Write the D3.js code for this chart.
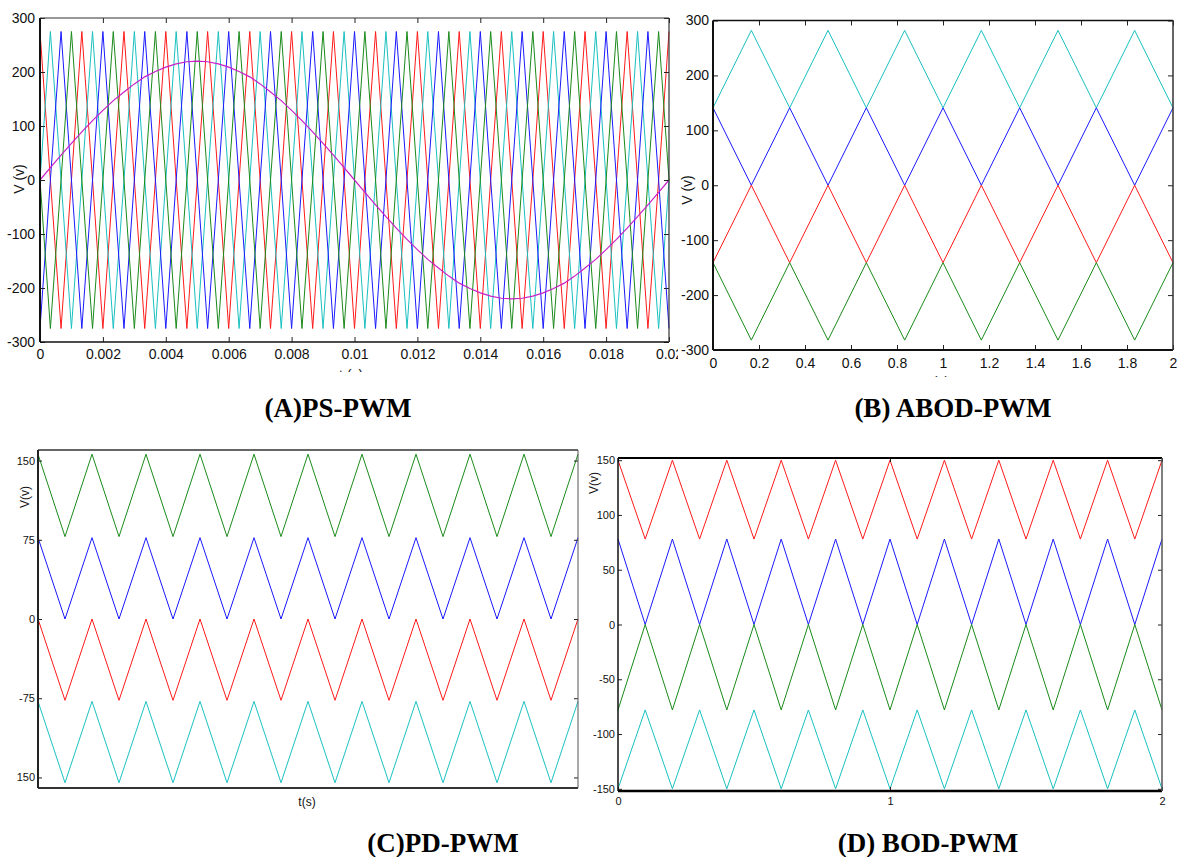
<!DOCTYPE html>
<html>
  <head>
    <title>PWM carriers</title>
    <script src="https://cdn.jsdelivr.net/npm/d3@7"></script>
    <style>
      body { margin: 0; background: #fff; }
    </style>
  </head>
  <body>
    <svg width="1178" height="857" id="mainsvg"></svg>
    <script>
      // ---------- (A) PS-PWM : one time grid (s) for the four carriers + reference ----------
      const tA = [0, 0.00033, 0.00067, 0.001, 0.00133, 0.00167, 0.002, 0.00233, 0.00267, 0.003,
        0.00333, 0.00367, 0.004, 0.00433, 0.00467, 0.005, 0.00533, 0.00567, 0.006, 0.00633,
        0.00667, 0.007, 0.00733, 0.00767, 0.008, 0.00833, 0.00867, 0.009, 0.00933, 0.00967,
        0.01, 0.01033, 0.01067, 0.011, 0.01133, 0.01167, 0.012, 0.01233, 0.01267, 0.013,
        0.01333, 0.01367, 0.014, 0.01433, 0.01467, 0.015, 0.01533, 0.01567, 0.016, 0.01633,
        0.01667, 0.017, 0.01733, 0.01767, 0.018, 0.01833, 0.01867, 0.019, 0.01933, 0.01967, 0.02];
      const sineA = [0, 23, 46, 68, 89, 110, 129, 147, 163, 178, 191, 201, 209, 215, 219, 220,
        219, 215, 209, 201, 191, 178, 163, 147, 129, 110, 89, 68, 46, 23, 0,
        -23, -46, -68, -89, -110, -129, -147, -163, -178, -191, -201, -209, -215, -219, -220,
        -219, -215, -209, -201, -191, -178, -163, -147, -129, -110, -89, -68, -46, -23, 0];
      const redA = [275, 0, -275, 0, 275, 0, -275, 0, 275, 0, -275, 0, 275, 0, -275, 0,
        275, 0, -275, 0, 275, 0, -275, 0, 275, 0, -275, 0, 275, 0, -275, 0,
        275, 0, -275, 0, 275, 0, -275, 0, 275, 0, -275, 0, 275, 0, -275, 0,
        275, 0, -275, 0, 275, 0, -275, 0, 275, 0, -275, 0, 275];
      const cyanA = [0, 275, 0, -275, 0, 275, 0, -275, 0, 275, 0, -275, 0, 275, 0, -275,
        0, 275, 0, -275, 0, 275, 0, -275, 0, 275, 0, -275, 0, 275, 0, -275,
        0, 275, 0, -275, 0, 275, 0, -275, 0, 275, 0, -275, 0, 275, 0, -275,
        0, 275, 0, -275, 0, 275, 0, -275, 0, 275, 0, -275, 0];
      const blueA = [-275, 0, 275, 0, -275, 0, 275, 0, -275, 0, 275, 0, -275, 0, 275, 0,
        -275, 0, 275, 0, -275, 0, 275, 0, -275, 0, 275, 0, -275, 0, 275, 0,
        -275, 0, 275, 0, -275, 0, 275, 0, -275, 0, 275, 0, -275, 0, 275, 0,
        -275, 0, 275, 0, -275, 0, 275, 0, -275, 0, 275, 0, -275];
      const greenA = [0, -275, 0, 275, 0, -275, 0, 275, 0, -275, 0, 275, 0, -275, 0, 275,
        0, -275, 0, 275, 0, -275, 0, 275, 0, -275, 0, 275, 0, -275, 0, 275,
        0, -275, 0, 275, 0, -275, 0, 275, 0, -275, 0, 275, 0, -275, 0, 275,
        0, -275, 0, 275, 0, -275, 0, 275, 0, -275, 0, 275, 0];
      const yTicksA = [-300, -200, -100, 0, 100, 200, 300];
      const yLabelsA = ['-300', '-200', '-100', '0', '100', '200', '300'];
      const xTicksA = [0, 0.002, 0.004, 0.006, 0.008, 0.01, 0.012, 0.014, 0.016, 0.018, 0.02];
      const xLabelsA = ['0', '0.002', '0.004', '0.006', '0.008', '0.01', '0.012', '0.014', '0.016', '0.018', '0.02'];

      // ---------- (B) ABOD-PWM ----------
      const tB = [0, 0.1667, 0.3333, 0.5, 0.6667, 0.8333, 1, 1.1667, 1.3333, 1.5, 1.6667, 1.8333, 2];
      const cyanB = [141, 282, 141, 282, 141, 282, 141, 282, 141, 282, 141, 282, 141];
      const blueB = [141, 0, 141, 0, 141, 0, 141, 0, 141, 0, 141, 0, 141];
      const redB = [-141, 0, -141, 0, -141, 0, -141, 0, -141, 0, -141, 0, -141];
      const greenB = [-141, -282, -141, -282, -141, -282, -141, -282, -141, -282, -141, -282, -141];
      const yTicksB = [-300, -200, -100, 0, 100, 200, 300];
      const yLabelsB = ['-300', '-200', '-100', '0', '100', '200', '300'];
      const xTicksB = [0, 0.2, 0.4, 0.6, 0.8, 1, 1.2, 1.4, 1.6, 1.8, 2];
      const xLabelsB = ['0', '0.2', '0.4', '0.6', '0.8', '1', '1.2', '1.4', '1.6', '1.8', '2'];

      // ---------- (C) PD-PWM ----------
      const tC = [0, 0.1, 0.2, 0.3, 0.4, 0.5, 0.6, 0.7, 0.8, 0.9, 1, 1.1, 1.2, 1.3, 1.4, 1.5, 1.6, 1.7, 1.8, 1.9, 2];
      const greenC = [156, 78, 156, 78, 156, 78, 156, 78, 156, 78, 156, 78, 156, 78, 156, 78, 156, 78, 156, 78, 156];
      const blueC = [77, 0, 77, 0, 77, 0, 77, 0, 77, 0, 77, 0, 77, 0, 77, 0, 77, 0, 77, 0, 77];
      const redC = [0, -77, 0, -77, 0, -77, 0, -77, 0, -77, 0, -77, 0, -77, 0, -77, 0, -77, 0, -77, 0];
      const cyanC = [-78, -155, -78, -155, -78, -155, -78, -155, -78, -155, -78, -155, -78, -155, -78, -155, -78, -155, -78, -155, -78];
      const yTicksC = [-150, -75, 0, 75, 150];
      const yLabelsC = ['150', '-75', '0', '75', '150'];

      // ---------- (D) BOD-PWM ----------
      const tD = [0, 0.1, 0.2, 0.3, 0.4, 0.5, 0.6, 0.7, 0.8, 0.9, 1, 1.1, 1.2, 1.3, 1.4, 1.5, 1.6, 1.7, 1.8, 1.9, 2];
      const redD = [150, 78, 150, 78, 150, 78, 150, 78, 150, 78, 150, 78, 150, 78, 150, 78, 150, 78, 150, 78, 150];
      const blueD = [78, 0, 78, 0, 78, 0, 78, 0, 78, 0, 78, 0, 78, 0, 78, 0, 78, 0, 78, 0, 78];
      const greenD = [-78, 0, -78, 0, -78, 0, -78, 0, -78, 0, -78, 0, -78, 0, -78, 0, -78, 0, -78, 0, -78];
      const cyanD = [-150, -78, -150, -78, -150, -78, -150, -78, -150, -78, -150, -78, -150, -78, -150, -78, -150, -78, -150, -78, -150];
      const yTicksD = [-150, -100, -50, 0, 50, 100, 150];
      const yLabelsD = ['-150', '-100', '-50', '0', '50', '100', '150'];
      const xTicksD = [0, 1, 2];
      const xLabelsD = ['0', '1', '2'];

      // matlab-ish colours
      const RED = '#ff1a1a', BLUE = '#1a1aff', GREEN = '#1a8a1a', CYAN = '#1ac0c0', MAGENTA = '#c81fc8';

      const svg = d3.select('#mainsvg');
      const sans = "'Liberation Sans', Arial, sans-serif";
      const narrow = "'Liberation Sans Narrow', 'Liberation Sans', Arial, sans-serif";
      const serif = "'Liberation Serif', 'Times New Roman', serif";

      const render = function(cfg) {
        const g = svg.append('g');
        if (cfg.clip) {
          svg.append('clipPath').attr('id', cfg.id + '-clip')
            .append('rect')
            .attr('x', cfg.clip[0]).attr('y', cfg.clip[1])
            .attr('width', cfg.clip[2]).attr('height', cfg.clip[3]);
          g.attr('clip-path', `url(#${cfg.id}-clip)`);
        }

        const xScale = d3.scaleLinear().domain(cfg.xDomain).range([cfg.left, cfg.right]);
        const yScale = d3.scaleLinear().domain(cfg.yDomain).range([cfg.bottom, cfg.top]);

        // carriers / reference
        const line = d3.line()
          .x((d, i) => xScale(cfg.t[i]))
          .y(d => yScale(d));
        cfg.series.forEach(s => {
          g.append('path')
            .attr('d', line(s.values))
            .attr('fill', 'none')
            .attr('stroke', s.color)
            .attr('stroke-width', s.width || 1);
        });

        // inward ticks on all sides, labels left / bottom
        const yLeft = d3.axisLeft(yScale)
          .tickValues(cfg.yTicks)
          .tickFormat((d, i) => cfg.yLabels[i])
          .tickSize(-cfg.tick).tickSizeOuter(0)
          .tickPadding(cfg.yPad);
        const yl = g.append('g').attr('transform', `translate(${cfg.left}, 0)`).call(yLeft);

        const yRight = d3.axisRight(yScale)
          .tickValues(cfg.yTicks).tickFormat('')
          .tickSize(-cfg.tick).tickSizeOuter(0);
        const yr = g.append('g').attr('transform', `translate(${cfg.right}, 0)`).call(yRight);

        const axisGroups = [yl, yr];
        if (cfg.xTicks) {
          const xBottom = d3.axisBottom(xScale)
            .tickValues(cfg.xTicks)
            .tickFormat((d, i) => cfg.xLabels ? cfg.xLabels[i] : '')
            .tickSize(-cfg.tick).tickSizeOuter(0)
            .tickPadding(cfg.xPad);
          const xb = g.append('g').attr('transform', `translate(0, ${cfg.bottom})`).call(xBottom);
          const xTop = d3.axisTop(xScale)
            .tickValues(cfg.xTicks).tickFormat('')
            .tickSize(-cfg.tick).tickSizeOuter(0);
          const xt = g.append('g').attr('transform', `translate(0, ${cfg.top})`).call(xTop);
          axisGroups.push(xb, xt);
        }
        axisGroups.forEach(a => {
          a.selectAll('.domain').remove();
          a.selectAll('line').attr('stroke', '#222');
          a.selectAll('text')
            .attr('fill', '#111')
            .style('font-family', cfg.font)
            .style('font-size', cfg.fontSize + 'px');
        });

        // frame
        const fr = cfg.frame;
        g.append('line').attr('x1', cfg.left).attr('x2', cfg.right).attr('y1', cfg.top).attr('y2', cfg.top)
          .attr('stroke', fr.top[0]).attr('stroke-width', fr.top[1]);
        g.append('line').attr('x1', cfg.left).attr('x2', cfg.right).attr('y1', cfg.bottom).attr('y2', cfg.bottom)
          .attr('stroke', fr.bottom[0]).attr('stroke-width', fr.bottom[1]);
        g.append('line').attr('x1', cfg.left).attr('x2', cfg.left).attr('y1', cfg.top).attr('y2', cfg.bottom)
          .attr('stroke', fr.left[0]).attr('stroke-width', fr.left[1]);
        g.append('line').attr('x1', cfg.right).attr('x2', cfg.right).attr('y1', cfg.top).attr('y2', cfg.bottom)
          .attr('stroke', fr.right[0]).attr('stroke-width', fr.right[1]);

        // axis titles
        g.append('text')
          .attr('transform', `translate(${cfg.yTitle[0]}, ${cfg.yTitle[1]}) rotate(-90)`)
          .attr('text-anchor', 'middle')
          .attr('dominant-baseline', 'central')
          .style('font-family', cfg.font)
          .style('font-size', cfg.titleSize + 'px')
          .attr('fill', '#111')
          .text(cfg.yTitle[2]);
        if (cfg.xTitle) {
          g.append('text')
            .attr('x', cfg.xTitle[0]).attr('y', cfg.xTitle[1])
            .attr('text-anchor', 'middle')
            .style('font-family', cfg.font)
            .style('font-size', cfg.titleSize + 'px')
            .attr('fill', '#111')
            .text(cfg.xTitle[2]);
        }

        // caption under the panel
        svg.append('text')
          .attr('x', cfg.caption[0]).attr('y', cfg.caption[1])
          .attr('text-anchor', 'middle')
          .style('font-family', serif)
          .style('font-weight', 'bold')
          .style('font-size', '27px')
          .attr('fill', '#000')
          .text(cfg.caption[2]);
      };

      render({
        id: 'pa', clip: [0, 0, 678, 372],
        left: 40, right: 669, top: 18, bottom: 342,
        xDomain: [0, 0.02], yDomain: [-300, 300],
        t: tA,
        series: [
          {values: redA, color: RED}, {values: cyanA, color: CYAN},
          {values: blueA, color: BLUE}, {values: greenA, color: GREEN},
          {values: sineA, color: MAGENTA, width: 1.2}
        ],
        yTicks: yTicksA, yLabels: yLabelsA, xTicks: xTicksA, xLabels: xLabelsA,
        tick: 5, yPad: 5, xPad: 7, font: sans, fontSize: 14, titleSize: 14,
        frame: {top: ['#333', 1.2], bottom: ['#111', 1.6], left: ['#111', 2], right: ['#333', 1.2]},
        yTitle: [19, 179, 'V (v)'], xTitle: [351, 380, 't (s)'],
        caption: [338, 417, '(A)PS-PWM']
      });

      render({
        id: 'pb', clip: [678, 0, 500, 377],
        left: 713, right: 1173, top: 20.5, bottom: 350,
        xDomain: [0, 2], yDomain: [-300, 300],
        t: tB,
        series: [
          {values: cyanB, color: CYAN}, {values: blueB, color: BLUE},
          {values: redB, color: RED}, {values: greenB, color: GREEN}
        ],
        yTicks: yTicksB, yLabels: yLabelsB, xTicks: xTicksB, xLabels: xLabelsB,
        tick: 5, yPad: 4, xPad: 8, font: sans, fontSize: 14, titleSize: 14,
        frame: {top: ['#111', 1.5], bottom: ['#111', 1.8], left: ['#111', 2], right: ['#333', 1.5]},
        yTitle: [687, 190, 'V (v)'], xTitle: [937, 387, 't (s)'],
        caption: [953, 417, '(B) ABOD-PWM']
      });

      render({
        id: 'pc',
        left: 38, right: 578, top: 450, bottom: 788,
        xDomain: [0, 2], yDomain: [-160, 160],
        t: tC,
        series: [
          {values: greenC, color: GREEN}, {values: blueC, color: BLUE},
          {values: redC, color: RED}, {values: cyanC, color: CYAN}
        ],
        yTicks: yTicksC, yLabels: yLabelsC,
        tick: 4, yPad: 3, font: narrow, fontSize: 11, titleSize: 12,
        frame: {top: ['#333', 1.5], bottom: ['#333', 2], left: ['#222', 2], right: ['#555', 1]},
        yTitle: [25, 497, 'V(v)'], xTitle: [307, 806, 't(s)'],
        caption: [443, 852, '(C)PD-PWM']
      });

      render({
        id: 'pd',
        left: 618, right: 1162, top: 458, bottom: 791,
        xDomain: [0, 2], yDomain: [-152, 152],
        t: tD,
        series: [
          {values: redD, color: RED}, {values: blueD, color: BLUE},
          {values: greenD, color: GREEN}, {values: cyanD, color: CYAN}
        ],
        yTicks: yTicksD, yLabels: yLabelsD, xTicks: xTicksD, xLabels: xLabelsD,
        tick: 4, yPad: 3, xPad: 6, font: narrow, fontSize: 11, titleSize: 12,
        frame: {top: ['#000', 2], bottom: ['#000', 2.5], left: ['#111', 1.5], right: ['#555', 1.5]},
        yTitle: [594, 483, 'V(v)'],
        caption: [928, 852, '(D) BOD-PWM']
      });
    </script>
  </body>
</html>
